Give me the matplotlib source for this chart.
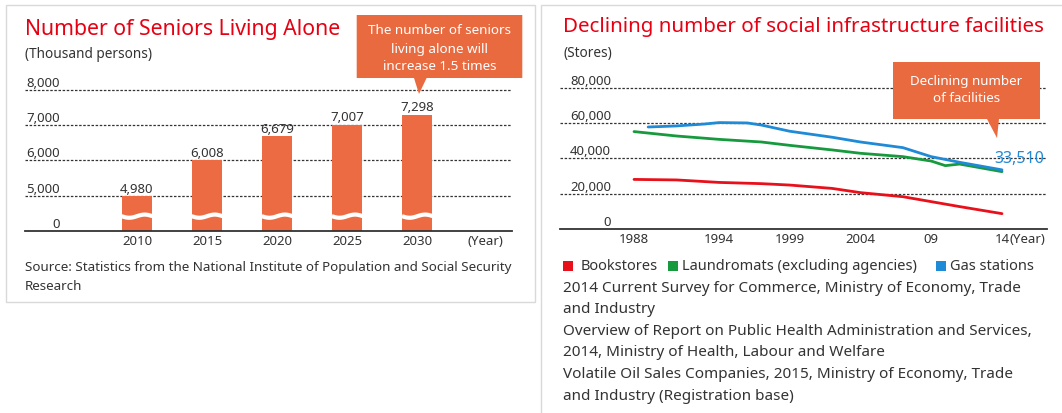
import numpy as np
import matplotlib.pyplot as plt
from matplotlib.patches import Polygon, Rectangle

plt.rcParams['font.family'] = ['Noto Sans', 'DejaVu Sans']

W, H = 1062, 413

# 単身高齢者数 (千人)
senior_years = ['2010', '2015', '2020', '2025', '2030']
senior_values = [4980, 6008, 6679, 7007, 7298]
senior_ticks = [4000, 5000, 6000, 7000, 8000]
senior_tick_labels = ['0', '5,000', '6,000', '7,000', '8,000']

# 施設数 (店)
book_years = [1988, 1991, 1994, 1997, 1999, 2002, 2004, 2007, 2009, 2011, 2014]
book_values = [28100, 27800, 26400, 25700, 24900, 23000, 20600, 18300, 15500, 12700, 8700]
laundry_years = [1988, 1991, 1994, 1997, 1999, 2002, 2004, 2007, 2009, 2010, 2011, 2014]
laundry_values = [55200, 52700, 50800, 49300, 47400, 44800, 42900, 41000, 38500, 35900, 36800, 32500]
gas_years = [1989, 1991, 1993, 1994, 1996, 1997, 1999, 2002, 2004, 2007, 2009, 2011, 2014]
gas_values = [57800, 58400, 59500, 60300, 60100, 58900, 55400, 52000, 49300, 46100, 41000, 37800, 33510]
facility_ticks = [0, 20000, 40000, 60000, 80000]
facility_tick_labels = ['0', '20,000', '40,000', '60,000', '80,000']
facility_xticks = [1988, 1994, 1999, 2004, 2009, 2014]
facility_xlabels = ['1988', '1994', '1999', '2004', '09', '14']

RED = '#e60012'
ORANGE = '#ec6b43'
GRID = dict(color='#333333', lw=0.9, ls=(0, (2, 1.3)))
TXT = '#333333'


def box(x0, y0, x1, y1):
    return [x0 / W, 1 - y1 / H, (x1 - x0) / W, (y1 - y0) / H]


def fp(x, y):
    return (x / W, 1 - y / H)


fig = plt.figure(figsize=(W / 100, H / 100), dpi=100)

# パネル枠
fig.patches.append(Rectangle(fp(6, 302), (535 - 6) / W, (302 - 5) / H, transform=fig.transFigure,
                             fill=False, ec='#d9d9d9', lw=1))
fig.patches.append(Rectangle(fp(541, 430), (1080 - 541) / W, (430 - 5) / H, transform=fig.transFigure,
                             fill=False, ec='#d9d9d9', lw=1))

# ---------------- 左: 棒グラフ ----------------
ax1 = fig.add_axes(box(25, 80, 511.5, 231))
x = np.arange(len(senior_values))
ax1.set_xlim(-1.597, 5.342)
ax1.set_ylim(4000, 8278)
ax1.bar(x, senior_values, width=0.43, color=ORANGE, zorder=3)
for t in senior_ticks[1:]:
    ax1.axhline(t, zorder=1, **GRID)
ax1.axhline(4000, color=TXT, lw=1.3, zorder=4, clip_on=False)
for t, lab in zip(senior_ticks, senior_tick_labels):
    ax1.text(0.072, t, lab, transform=ax1.get_yaxis_transform(), ha='right', va='bottom',
             fontsize=9.5, color=TXT)
for i, (yr, v) in enumerate(zip(senior_years, senior_values)):
    ax1.annotate(f'{v:,}', (i, v), xytext=(0, 0.3), textcoords='offset points',
                 ha='center', va='bottom', fontsize=9.5, color=TXT, zorder=5)
    ax1.annotate(yr, (i, 4000), xytext=(0, -3), textcoords='offset points',
                 ha='center', va='top', fontsize=9.5, color=TXT)
    # 省略線
    xs = np.linspace(i - 0.22, i + 0.22, 40)
    ys = 4420 - 45 * np.sin(2 * np.pi * (xs - i + 0.22) / 0.44)
    ax1.plot(xs, ys, color='white', lw=3, zorder=4, solid_capstyle='butt')
ax1.annotate('(Year)', (0.946, 4000), xycoords=('axes fraction', 'data'), xytext=(0, -3),
             textcoords='offset points', ha='center', va='top', fontsize=9.5, color=TXT)
ax1.axis('off')

fig.text(*fp(25, 29), 'Number of Seniors Living Alone', color=RED, fontsize=15.3, va='center')
fig.text(*fp(25, 55), '(Thousand persons)', color=TXT, fontsize=9.8, va='center')
fig.text(*fp(25, 267), 'Source: Statistics from the National Institute of Population and Social Security',
         color=TXT, fontsize=9.65, va='center')
fig.text(*fp(25, 286), 'Research', color=TXT, fontsize=9.65, va='center')

# 吹き出し (左)
pts = [(356.7, 15), (522.3, 15), (522.3, 78), (426.6, 78), (419, 94), (414, 78), (356.7, 78)]
fig.patches.append(Polygon([fp(a, b) for a, b in pts], closed=True, transform=fig.transFigure,
                           fc='#ea6a40', ec='none'))
for txt, yy in zip(['The number of seniors', 'living alone will', 'increase 1.5 times'], [31, 49, 67]):
    fig.text(*fp(439.5, yy), txt, color='white', fontsize=9.7, fontweight='bold', ha='center', va='center')

# ---------------- 右: 折れ線 ----------------
ax2 = fig.add_axes(box(560, 79, 1047, 229))
ax2.set_xlim(1982.77, 2017.18)
ax2.set_ylim(0, 85000)
for t in facility_ticks[1:]:
    ax2.axhline(t, zorder=1, **GRID)
ax2.axhline(0, color=TXT, lw=1.3, zorder=4, clip_on=False)
ax2.plot(book_years, book_values, color='#e8101a', lw=2, zorder=3, solid_capstyle='round')
ax2.plot(laundry_years, laundry_values, color='#179a3e', lw=2, zorder=3, solid_capstyle='round')
ax2.plot(gas_years, gas_values, color='#1f8ad6', lw=2, zorder=3, solid_capstyle='round')
for t, lab in zip(facility_ticks, facility_tick_labels):
    ax2.text(0.105, t, lab, transform=ax2.get_yaxis_transform(), ha='right', va='bottom',
             fontsize=9.5, color=TXT)
for yr, lab in zip(facility_xticks, facility_xlabels):
    ax2.annotate(lab, (yr, 0), xytext=(0, -3), textcoords='offset points',
                 ha='center', va='top', fontsize=9.5, color=TXT)
ax2.annotate('(Year)', (0.924, 0), xycoords=('axes fraction', 'data'), xytext=(0, -3),
             textcoords='offset points', ha='left', va='top', fontsize=9.5, color=TXT)
ax2.annotate(f'{gas_values[-1]:,}', (gas_years[-1], gas_values[-1]), xytext=(12.5, 8),
             textcoords='offset points', ha='center', va='center', fontsize=11.5, color='#1f8ad6')
ax2.axis('off')

fig.text(*fp(563, 27), 'Declining number of social infrastructure facilities', color=RED, fontsize=14.8,
         va='center')
fig.text(*fp(563, 53), '(Stores)', color=TXT, fontsize=9.8, va='center')

pts = [(893, 62), (1040, 62), (1040, 119), (999, 119), (997, 138), (987, 119), (893, 119)]
fig.patches.append(Polygon([fp(a, b) for a, b in pts], closed=True, transform=fig.transFigure,
                           fc='#ea6a40', ec='none'))
for txt, yy in zip(['Declining number', 'of facilities'], [82, 99]):
    fig.text(*fp(966.5, yy), txt, color='white', fontsize=9.6, fontweight='bold', ha='center', va='center')

# 凡例
legend_items = [('Bookstores', '#e8101a', 563, 581), ('Laundromats (excluding agencies)', '#179a3e', 668, 682),
                ('Gas stations', '#1f8ad6', 936, 950)]
for lab, col, sx, tx in legend_items:
    fig.patches.append(Rectangle(fp(sx, 271), 10 / W, 10 / H, transform=fig.transFigure, fc=col, ec='none'))
    fig.text(*fp(tx, 266), lab, color=TXT, fontsize=10.5, va='center')

source_lines = ['2014 Current Survey for Commerce, Ministry of Economy, Trade',
                'and Industry',
                'Overview of Report on Public Health Administration and Services,',
                '2014, Ministry of Health, Labour and Welfare',
                'Volatile Oil Sales Companies, 2015, Ministry of Economy, Trade',
                'and Industry (Registration base)']
for k, line in enumerate(source_lines):
    fig.text(*fp(563, 288 + 21.6 * k), line, color=TXT, fontsize=11, va='center')

fig.savefig('out.png', dpi=100, facecolor='white')
